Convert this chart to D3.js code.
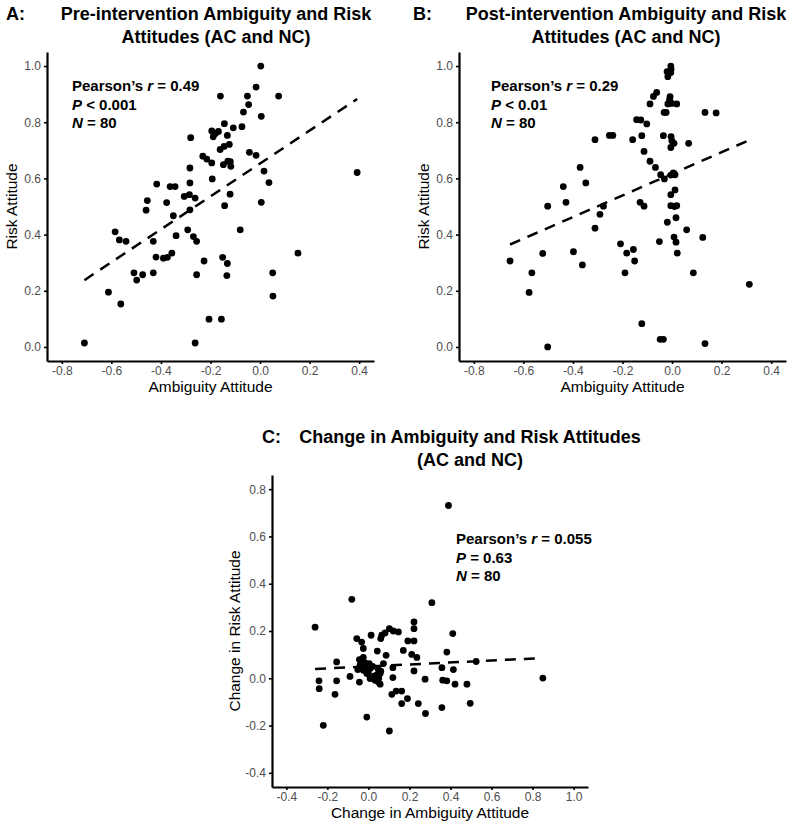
<!DOCTYPE html>
<html><head><meta charset="utf-8">
<script src="https://cdn.jsdelivr.net/npm/d3@7"></script>
<style>body{margin:0;background:#fff} svg{display:block} text{font-family:"Liberation Sans",Arial,sans-serif}</style>
</head><body>
<svg id="chart" width="788" height="826"></svg>
<script>
// Panel A: pre-intervention
const preAmbiguity = [-0.160,-0.280,-0.144,-0.108,-0.195,-0.168,-0.189,-0.132,-0.161,-0.145,-0.124,-0.231,-0.215,-0.195,-0.148,-0.130,-0.118,-0.283,-0.193,-0.417,-0.363,-0.343,-0.283,-0.306,-0.285,-0.262,-0.455,-0.377,-0.143,-0.121,-0.460,-0.350,-0.283,-0.585,-0.568,-0.541,-0.431,-0.292,-0.339,-0.269,-0.256,-0.420,-0.390,-0.374,-0.356,-0.226,-0.151,-0.132,-0.509,-0.498,-0.474,-0.431,-0.256,-0.134,-0.709,-0.612,-0.562,-0.206,-0.156,-0.262,-0.080,0.005,0.051,0.153,0.052,0.003,-0.016,-0.051,0.075,-0.046,-0.067,0.005,-0.073,-0.043,-0.016,0.016,0.036,0.392,-0.180,-0.120];
const preRisk = [0.893,0.745,0.795,0.780,0.769,0.767,0.748,0.753,0.703,0.714,0.721,0.679,0.669,0.655,0.649,0.661,0.643,0.637,0.598,0.580,0.571,0.571,0.584,0.536,0.542,0.530,0.521,0.514,0.503,0.544,0.487,0.467,0.488,0.410,0.381,0.376,0.376,0.417,0.396,0.393,0.376,0.320,0.316,0.319,0.334,0.306,0.319,0.297,0.264,0.238,0.257,0.264,0.257,0.254,0.014,0.195,0.153,0.099,0.099,0.014,0.417,0.515,0.264,0.334,0.181,1.000,0.925,0.893,0.893,0.863,0.836,0.821,0.784,0.693,0.682,0.626,0.585,0.621,0.760,0.660];
// Panel B: post-intervention
const postAmbiguity = [-0.311,-0.253,-0.239,-0.371,-0.439,-0.348,-0.502,-0.428,-0.277,-0.291,-0.311,-0.208,-0.654,-0.522,-0.398,-0.362,-0.566,-0.577,-0.502,-0.005,-0.004,-0.005,-0.017,-0.062,-0.075,-0.089,-0.008,-0.017,-0.001,0.019,-0.032,-0.024,0.133,0.178,-0.143,-0.126,-0.102,-0.122,-0.159,-0.035,-0.004,-0.001,0.008,-0.005,0.067,-0.113,-0.089,-0.067,-0.046,-0.031,-0.005,0.012,0.012,-0.005,-0.129,-0.113,-0.005,0.019,-0.019,0.016,0.059,-0.051,0.008,0.016,0.124,-0.183,-0.156,-0.151,0.021,-0.190,0.086,0.312,-0.122,-0.048,-0.035,0.133,-0.010,0.005,-0.020,0.010];
const postRisk = [0.738,0.753,0.753,0.639,0.571,0.584,0.501,0.515,0.501,0.472,0.423,0.367,0.306,0.333,0.339,0.292,0.264,0.194,0.000,1.000,0.989,0.977,0.962,0.906,0.892,0.865,0.891,0.865,0.867,0.865,0.835,0.835,0.835,0.833,0.809,0.808,0.794,0.752,0.738,0.752,0.749,0.734,0.725,0.710,0.725,0.696,0.661,0.639,0.613,0.598,0.612,0.613,0.559,0.542,0.515,0.501,0.503,0.503,0.444,0.460,0.417,0.375,0.391,0.373,0.390,0.334,0.347,0.306,0.334,0.264,0.264,0.223,0.083,0.027,0.027,0.012,0.880,0.620,0.980,0.500];
// Panel C: change
const changeAmbiguity = [0.390,-0.081,0.309,-0.260,0.222,0.222,0.411,-0.057,-0.033,0.013,0.065,0.081,0.102,0.121,0.146,0.060,0.192,0.222,-0.025,0.043,0.170,0.086,0.211,0.236,0.382,-0.155,-0.044,-0.025,-0.041,-0.017,0.004,0.073,-0.052,-0.025,0.008,-0.008,0.048,0.057,0.040,0.119,0.119,0.222,0.358,0.414,-0.241,-0.155,-0.090,-0.044,0.008,0.032,0.048,0.057,0.276,0.362,0.382,0.422,-0.240,-0.163,0.114,0.135,0.162,0.190,0.162,0.243,0.358,0.278,0.496,-0.008,-0.220,0.102,0.525,0.480,0.850,0.020,0.030,-0.010,0.060,0.000,-0.030,0.050];
const changeRisk = [0.731,0.334,0.320,0.216,0.238,0.210,0.189,0.168,0.153,0.182,0.182,0.192,0.210,0.200,0.196,0.168,0.158,0.158,0.126,0.115,0.118,0.097,0.101,0.088,0.111,0.069,0.079,0.088,0.055,0.065,0.062,0.062,0.037,0.034,0.041,0.020,0.037,0.020,0.013,0.045,0.003,0.031,0.045,0.037,-0.011,-0.011,0.008,-0.016,-0.001,-0.008,-0.016,-0.025,-0.004,-0.008,-0.011,-0.025,-0.044,-0.068,-0.068,-0.054,-0.054,-0.086,-0.107,-0.107,-0.124,-0.149,-0.106,-0.164,-0.199,-0.223,0.071,-0.025,0.001,0.050,0.010,0.040,0.030,0.020,0.060,0.000];

const abXTicks = [-0.8,-0.6,-0.4,-0.2,0.0,0.2,0.4];
const abYTicks = [0.0,0.2,0.4,0.6,0.8,1.0];
const cXTicks = [-0.4,-0.2,0.0,0.2,0.4,0.6,0.8,1.0];
const cYTicks = [-0.4,-0.2,0.0,0.2,0.4,0.6,0.8];

const statsA = [["Pearson’s ", "r", " = 0.49"], ["", "P", " < 0.001"], ["", "N", " = 80"]];
const statsB = [["Pearson’s ", "r", " = 0.29"], ["", "P", " < 0.01"], ["", "N", " = 80"]];
const statsC = [["Pearson’s ", "r", " = 0.055"], ["", "P", " = 0.63"], ["", "N", " = 80"]];

const svg = d3.select("#chart");
const fmt = d => d.toFixed(1);

function panel(o) {
  const x = d3.scaleLinear().domain(o.xd).range(o.xr);
  const y = d3.scaleLinear().domain(o.yd).range(o.yr);
  const g = svg.append("g");
  const ya = g.append("g").attr("transform", `translate(${o.xr[0]},0)`)
    .call(d3.axisLeft(y).tickValues(o.yt).tickFormat(fmt).tickSize(3).tickSizeOuter(0).tickPadding(3));
  const xa = g.append("g").attr("transform", `translate(0,${o.yr[0]})`)
    .call(d3.axisBottom(x).tickValues(o.xt).tickFormat(fmt).tickSize(3).tickSizeOuter(0).tickPadding(2));
  [ya, xa].forEach(a => {
    a.select(".domain").attr("stroke", "#000").attr("stroke-width", 2.2);
    a.selectAll(".tick line").attr("stroke", "#000").attr("stroke-width", 1.6);
    a.selectAll(".tick text").attr("fill", "#4d4d4d").style("font-size", "12px");
  });
  // points
  const pts = o.xs.map((v, i) => [v, o.ys[i]]);
  g.append("g").selectAll("circle").data(pts).join("circle")
    .attr("cx", d => x(d[0])).attr("cy", d => y(d[1])).attr("r", 3.4).attr("fill", "#000");
  // OLS fit
  const mx = d3.mean(o.xs), my = d3.mean(o.ys);
  const b = d3.sum(o.xs, (v, i) => (v - mx) * (o.ys[i] - my)) / d3.sum(o.xs, v => (v - mx) ** 2);
  const a0 = my - b * mx;
  const ext = d3.extent(o.xs);
  g.append("path").datum(ext.map(v => [v, a0 + b * v]))
    .attr("d", d3.line().x(d => x(d[0])).y(d => y(d[1])))
    .attr("stroke", "#000").attr("stroke-width", 2.5).attr("stroke-dasharray", "11,8").attr("fill", "none");
  // stats
  o.stats.forEach((s, i) => {
    const t = g.append("text").attr("x", o.sx).attr("y", o.sy + i * 18.5)
      .style("font-size", "15px").style("font-weight", "bold");
    if (s[0]) t.append("tspan").text(s[0]);
    t.append("tspan").style("font-style", "italic").text(s[1]);
    t.append("tspan").text(s[2]);
  });
  // axis titles
  g.append("text").attr("x", (o.xr[0] + o.xr[1]) / 2).attr("y", o.yr[0] + 31)
    .attr("text-anchor", "middle").style("font-size", "15.5px").text(o.xl);
  g.append("text").attr("transform", `translate(${o.ylx},${(o.yr[0] + o.yr[1]) / 2}) rotate(-90)`)
    .attr("text-anchor", "middle").style("font-size", "15.5px").text(o.yl);
  // title
  g.append("text").attr("x", o.tagx).attr("y", o.ty).style("font-size", "18px").style("font-weight", "bold").text(o.tag);
  o.title.forEach((ln, i) => {
    g.append("text").attr("x", o.tx).attr("y", o.ty + i * 23).attr("text-anchor", "middle")
      .style("font-size", "18px").style("font-weight", "bold").text(ln);
  });
}

panel({xd: [-0.86, 0.46], xr: [47, 374], yd: [-0.05, 1.05], yr: [361, 52], xt: abXTicks, yt: abYTicks,
  xs: preAmbiguity, ys: preRisk, stats: statsA, sx: 72, sy: 91,
  xl: "Ambiguity Attitude", yl: "Risk Attitude", ylx: 17,
  tag: "A:", tagx: 6, tx: 216, ty: 20, title: ["Pre-intervention Ambiguity and Risk", "Attitudes (AC and NC)"]});
panel({xd: [-0.86, 0.46], xr: [459, 786], yd: [-0.05, 1.05], yr: [361, 52], xt: abXTicks, yt: abYTicks,
  xs: postAmbiguity, ys: postRisk, stats: statsB, sx: 491, sy: 91,
  xl: "Ambiguity Attitude", yl: "Risk Attitude", ylx: 429,
  tag: "B:", tagx: 413, tx: 626, ty: 20, title: ["Post-intervention Ambiguity and Risk", "Attitudes (AC and NC)"]});
panel({xd: [-0.47, 1.07], xr: [272, 588], yd: [-0.46, 0.86], yr: [787, 475], xt: cXTicks, yt: cYTicks,
  xs: changeAmbiguity, ys: changeRisk, stats: statsC, sx: 456, sy: 544,
  xl: "Change in Ambiguity Attitude", yl: "Change in Risk Attitude", ylx: 240,
  tag: "C:", tagx: 262, tx: 470, ty: 443, title: ["Change in Ambiguity and Risk Attitudes", "(AC and NC)"]});
</script>
</body></html>
